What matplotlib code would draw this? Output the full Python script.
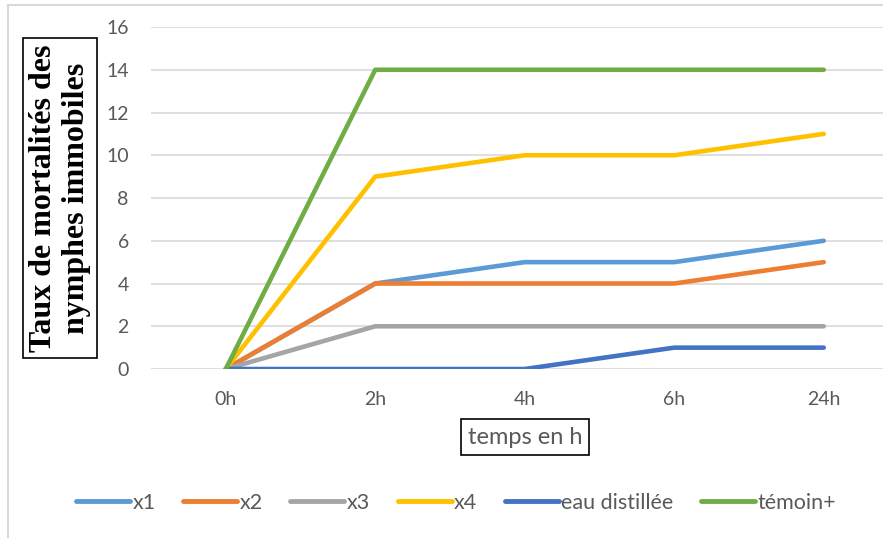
import matplotlib.pyplot as plt
from matplotlib.lines import Line2D

categories = ["0h", "2h", "4h", "6h", "24h"]
series_names = ["x1", "x2", "x3", "x4", "eau distillée", "témoin+"]
x1 = [0, 4, 5, 5, 6]
x2 = [0, 4, 4, 4, 5]
x3 = [0, 2, 2, 2, 2]
x4 = [0, 9, 10, 10, 11]
eau = [0, 0, 0, 1, 1]
temoin = [0, 14, 14, 14, 14]
couleurs = ["#5B9BD5", "#ED7D31", "#A5A5A5", "#FFC000", "#4472C4", "#70AD47"]

fig = plt.figure(figsize=(8.83, 5.38), dpi=100)
ax = fig.add_axes([151 / 883, 0.3141, 747.5 / 883, 0.6357])

pos = range(len(categories))
for nom, vals, c in zip(series_names, [x1, x2, x3, x4, eau, temoin], couleurs):
    ax.plot(pos, vals, color=c, lw=3.3, label=nom,
            solid_capstyle="round", solid_joinstyle="round")

ax.set_xlim(-0.5, 4.5)
ax.set_ylim(0, 16)
ax.set_yticks(range(0, 17, 2))
ax.set_xticks(list(pos))
ax.set_xticklabels(categories)
ax.grid(axis="y", color="#d9d9d9", lw=1.2)
ax.set_axisbelow(True)
for s in ax.spines.values():
    s.set_visible(False)
ax.tick_params(length=0, labelsize=14, labelcolor="#595959", pad=16)
for t in ax.get_xticklabels() + ax.get_yticklabels():
    t.set_family("Lato")

# titre de l'axe y dans un cadre
fig.text(60 / 883, 1 - 198 / 538, "Taux de mortalités des\nnymphes immobiles",
         rotation=90, ha="center", va="center", family="Liberation Serif",
         fontweight="bold", fontsize=23, linespacing=1.15,
         bbox=dict(boxstyle="square,pad=0.2", fc="white", ec="black", lw=1.2))

# titre de l'axe x
fig.text(525 / 883, 1 - 437 / 538, "temps en h", ha="center", va="center",
         family="Lato", fontsize=17, color="#595959",
         bbox=dict(boxstyle="square,pad=0.3", fc="white", ec="black", lw=1.2))

handles = [Line2D([], [], color=c, lw=3.5, solid_capstyle="round") for c in couleurs]
leg = fig.legend(handles, series_names, loc="center", bbox_to_anchor=(456 / 883, 1 - 503 / 538),
                 ncol=6, frameon=False, handlelength=2.5, handletextpad=0.1,
                 columnspacing=1.3, prop={"family": "Lato", "size": 15.5})
for t in leg.get_texts():
    t.set_color("#595959")

# cadre du graphique
fig.add_artist(Line2D([8 / 883, 8 / 883], [0, 1 - 5 / 538], color="#d9d9d9", lw=1.5))
fig.add_artist(Line2D([8 / 883, 1], [1 - 5 / 538, 1 - 5 / 538], color="#d9d9d9", lw=1.5))

fig.savefig("out.png", dpi=100)
